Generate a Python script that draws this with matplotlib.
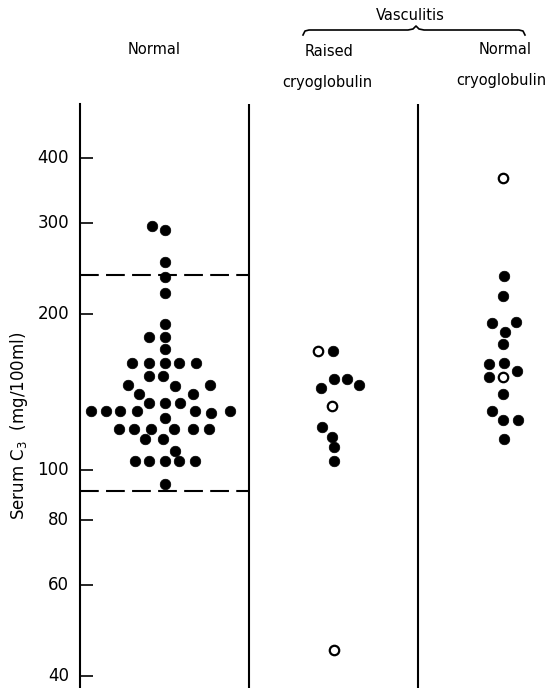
import matplotlib.pyplot as plt
from matplotlib.ticker import FixedLocator, NullLocator

plt.rcParams['font.family'] = ['DejaVu Sans']

# Serum C3 (mg/100ml), with horizontal offset of each dot inside its column
normal_values = [296, 291, 252, 236, 220, 191, 181, 181, 171,
                 161, 161, 161, 161, 161, 152, 152, 146, 146, 145,
                 140, 140, 135, 135, 135, 130, 130, 130, 130, 130, 130,
                 129, 126, 120, 120, 120, 120, 120, 120, 115, 115, 109,
                 104, 104, 104, 104, 104, 94]
normal_offsets = [-0.075, 0.004, 0, 0, 0, 0, -0.092, 0, 0,
                  -0.191, -0.092, 0, 0.083, 0.186, -0.092, -0.009, -0.217, 0.272, 0.065,
                  -0.150, 0.169, -0.089, 0, 0.089, -0.432, -0.347, -0.262, -0.162, 0.180, 0.389,
                  0.276, 0, -0.272, -0.179, -0.081, 0.059, 0.168, 0.265, -0.118, -0.009, 0.065,
                  -0.175, -0.092, 0, 0.083, 0.183, 0]

raised_values = [170, 170, 144, 150, 150, 146, 133, 121, 116, 111, 104, 45]
raised_offsets = [-0.090, -0.005, -0.074, 0, 0.078, 0.153, -0.010, -0.066, -0.010, 0, 0, 0]
raised_open = [True, False, False, False, False, False, True, False, False, False, False, True]

normcryo_values = [367, 237, 217, 192, 193, 185, 175, 160, 161, 151, 151, 155,
                   140, 130, 125, 125, 115]
normcryo_offsets = [0, 0.011, 0, -0.060, 0.080, 0.015, 0, -0.078, 0.011, -0.082, 0, 0.086,
                    0, -0.060, 0, 0.093, 0.007]
normcryo_open = [True, False, False, False, False, False, False, False, False, False, True, False,
                 False, False, False, False, False]

normal_range = [91, 238]
y_ticks = [40, 60, 80, 100, 200, 300, 400]

fig = plt.figure(figsize=(5.49, 6.88), dpi=100)
ax = fig.add_axes([80 / 549, 0, 1 - 80 / 549, 1 - 104 / 688])
ax.set_yscale('log')
ax.set_ylim(37.95, 509)
ax.set_xlim(0, 2.775)


def draw_column(center, values, offsets, hollow=None):
    if hollow is None:
        hollow = [False] * len(values)
    for v, o, h in zip(values, offsets, hollow):
        ax.plot(center + o, v, 'o', ms=7.6 if not h else 6.8,
                mfc='white' if h else 'black', mec='black',
                mew=1.6 if h else 0.5, zorder=3)


draw_column(0.5, normal_values, normal_offsets)
draw_column(1.5, raised_values, raised_offsets, raised_open)
draw_column(2.5, normcryo_values, normcryo_offsets, normcryo_open)

# normal range
for v in normal_range:
    ax.plot([0, 1], [v, v], color='black', lw=1.5, dashes=(9, 3.5))

# column separators
ax.axvline(1, color='black', lw=1.5)
ax.axvline(2, color='black', lw=1.5)

for s in ['top', 'right', 'bottom']:
    ax.spines[s].set_visible(False)
ax.spines['left'].set_linewidth(1.5)
ax.set_xticks([])
ax.yaxis.set_major_locator(FixedLocator(y_ticks))
ax.yaxis.set_minor_locator(NullLocator())
ax.set_yticklabels([str(t) for t in y_ticks], va='center')
ax.tick_params(axis='y', direction='in', length=9, width=1.2, pad=8, labelsize=12)

fig.text(19 / 549, 1 - 426 / 688, 'Serum C$_3$  (mg/100ml)', rotation=90,
         ha='center', va='center', fontsize=12)

# column headings
fig.text(154 / 549, 1 - 49 / 688, 'Normal', ha='center', va='center', fontsize=10.5)
fig.text(329 / 549, 1 - 52 / 688, 'Raised', ha='center', va='center', fontsize=10.5)
fig.text(327 / 549, 1 - 83 / 688, 'cryoglobulin', ha='center', va='center', fontsize=10.5)
fig.text(505 / 549, 1 - 50 / 688, 'Normal', ha='center', va='center', fontsize=10.5)
fig.text(501 / 549, 1 - 80 / 688, 'cryoglobulin', ha='center', va='center', fontsize=10.5)
fig.text(410 / 549, 1 - 16 / 688, 'Vasculitis', ha='center', va='center', fontsize=10.5)

# brace over the vasculitis columns
bx = [303, 305, 309, 408, 413, 416, 419, 424, 519, 523, 525]
by = [35, 31, 30, 30, 29, 26, 29, 30, 30, 31, 35]
fig.add_artist(plt.Line2D([x / 549 for x in bx], [1 - y / 688 for y in by],
                          color='black', lw=1.2))

fig.savefig('out.png', dpi=100)
